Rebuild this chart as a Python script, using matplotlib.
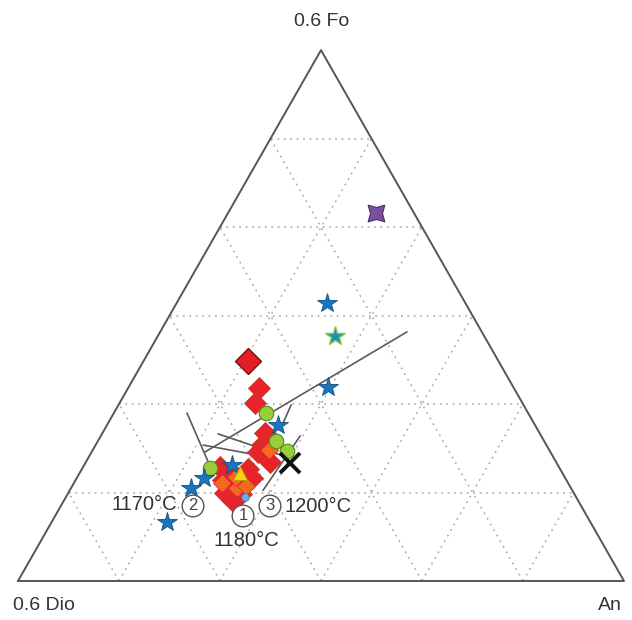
import numpy as np
import matplotlib.pyplot as plt

plt.rcParams["font.family"] = ["Liberation Sans", "DejaVu Sans"]

# ternary values, fractions of the plotted triangle (Fo = top, An = right, Dio = rest)
purple_fo = [0.693]
purple_an = [0.245]

star_fo = [0.524, 0.365, 0.294, 0.218, 0.194, 0.175, 0.111]
star_an = [0.248, 0.329, 0.282, 0.244, 0.210, 0.198, 0.190]
teal_star_fo = [0.461]
teal_star_an = [0.293]

green_fo = [0.316, 0.245, 0.213, 0.264]
green_an = [0.251, 0.321, 0.210, 0.294]

yellow_fo = [0.203]
yellow_an = [0.265]

lightblue_fo = [0.158]
lightblue_an = [0.296]

cross_fo = [0.222]
cross_an = [0.338]

big_red_fo = [0.414]
big_red_an = [0.173]
red_fo = [0.363, 0.335, 0.279, 0.256, 0.243, 0.224, 0.190, 0.203, 0.215, 0.179,
          0.188, 0.151, 0.164, 0.211, 0.194, 0.166]
red_an = [0.216, 0.224, 0.268, 0.275, 0.275, 0.304, 0.243, 0.252, 0.226, 0.260,
          0.272, 0.280, 0.286, 0.274, 0.289, 0.259]
orange_fo = [0.175, 0.179, 0.185, 0.196, 0.247]
orange_an = [0.274, 0.287, 0.244, 0.262, 0.290]

# cotectic line segments: (fo start, an start, fo end, an end)
seg_fo0 = [0.243, 0.316, 0.256, 0.277, 0.273, 0.331]
seg_an0 = [0.187, 0.121, 0.178, 0.192, 0.329, 0.285]
seg_fo1 = [0.469, 0.224, 0.234, 0.234, 0.171, 0.284]
seg_an1 = [0.407, 0.202, 0.293, 0.325, 0.319, 0.290]

apex_labels = ["0.6 Fo", "0.6 Dio", "An"]
temp_labels = ["1170°C", "1180°C", "1200°C"]

H = np.sqrt(3) / 2

# square with pinched sides, like the purple symbol
PINCHED_SQUARE = [(1, 1), (0, 0.72), (-1, 1), (-0.72, 0), (-1, -1),
                  (0, -0.72), (1, -1), (0.72, 0), (1, 1)]


def tern(fo, an):
    fo = np.asarray(fo, dtype=float)
    an = np.asarray(an, dtype=float)
    return an + fo / 2, fo * H


def px(x, y):
    # pixel position of the reference -> data coords
    return (x - 18) / 606, (581 - y) / 613


fig = plt.figure(figsize=(6.32, 6.2), dpi=100)
ax = fig.add_axes([0, 0, 1, 1])
ax.set_xlim(-18 / 606, 614 / 606)
ax.set_ylim(-39 / 613, 581 / 613)
ax.axis("off")

# dotted grid
grid_kw = dict(color="#aaaaaa", lw=1.1, linestyle=(0, (1.2, 3.0)), zorder=1)
for k in range(1, 6):
    t = k / 6
    ax.plot([t / 2, 1 - t / 2], [t * H, t * H], **grid_kw)
    ax.plot([t, t + (1 - t) / 2], [0, (1 - t) * H], **grid_kw)
    ax.plot([1 - t, (1 - t) / 2], [0, (1 - t) * H], **grid_kw)

# outline
ax.plot([0, 1, 0.5, 0], [0, 0, H, 0], color="#555555", lw=1.4, zorder=2)

# cotectic lines
for f0, a0, f1, a1 in zip(seg_fo0, seg_an0, seg_fo1, seg_an1):
    xs, ys = tern([f0, f1], [a0, a1])
    ax.plot(xs, ys, color="#5a5a5a", lw=1.2, zorder=3)

# markers
x, y = tern(red_fo, red_an)
ax.plot(x, y, "D", ms=11, mfc="#e8232a", mec="#c0392b", mew=0.6, ls="none", zorder=4)
x, y = tern(orange_fo, orange_an)
ax.plot(x, y, "D", ms=9.5, mfc="#f26b21", mec="#e8232a", mew=0.6, ls="none", zorder=5)
x, y = tern(big_red_fo, big_red_an)
ax.plot(x, y, "D", ms=13, mfc="#e31e24", mec="#7a1010", mew=1.0, ls="none", zorder=5)
x, y = tern(green_fo, green_an)
ax.plot(x, y, "o", ms=10.5, mfc="#9acd3a", mec="#4f8a1d", mew=0.8, ls="none", zorder=5)
x, y = tern(star_fo, star_an)
ax.plot(x, y, "*", ms=15, mfc="#1b75bb", mec="#0d4f86", mew=0.6, ls="none", zorder=6)
x, y = tern(teal_star_fo, teal_star_an)
ax.plot(x, y, "*", ms=15, mfc="#1b8fbf", mec="#8cc63f", mew=1.0, ls="none", zorder=6)
x, y = tern(yellow_fo, yellow_an)
ax.plot(x, y, "^", ms=10, mfc="#f7d117", mec="#b89a00", mew=0.6, ls="none", zorder=6)
x, y = tern(lightblue_fo, lightblue_an)
ax.plot(x, y, "o", ms=5.5, mfc="#6ab0de", mec="#2f7fb5", mew=0.6, ls="none", zorder=6)
x, y = tern(purple_fo, purple_an)
ax.plot(x, y, marker=PINCHED_SQUARE, ms=12, mfc="#7b4f9d", mec="#4a2d66", mew=0.8, ls="none", zorder=6)
x, y = tern(cross_fo, cross_an)
ax.plot(x, y, "x", ms=15, mew=2.8, color="#111111", ls="none", zorder=7)

# apex labels
txt_kw = dict(fontsize=14, color="#333333", ha="center", va="center")
ax.text(*px(322, 22), apex_labels[0], **txt_kw)
ax.text(*px(44, 606), apex_labels[1], **txt_kw)
ax.text(*px(610, 606), apex_labels[2], **txt_kw)

# temperature annotations with circled numbers
circ = dict(boxstyle="circle,pad=0.2", fc="white", ec="#555555", lw=1.0)
num_kw = dict(fontsize=12, color="#444444", ha="center", va="center", bbox=circ, zorder=8)
ax.text(*px(193, 506), "2", **num_kw)
ax.text(*px(243, 516), "1", **num_kw)
ax.text(*px(270, 506), "3", **num_kw)
ax.text(*px(177, 504), temp_labels[0], fontsize=14.5, color="#333333", ha="right", va="center")
ax.text(*px(246, 541), temp_labels[1], fontsize=14.5, color="#333333", ha="center", va="center")
ax.text(*px(285, 506), temp_labels[2], fontsize=14.5, color="#333333", ha="left", va="center")

fig.savefig("out.png", dpi=100, facecolor="white")
